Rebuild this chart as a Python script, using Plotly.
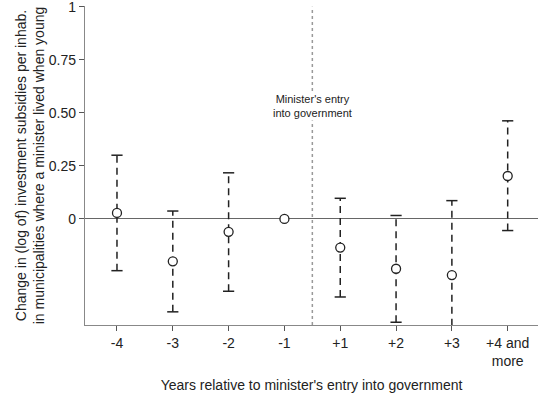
import plotly.graph_objects as go

categories = ["-4", "-3", "-2", "-1", "+1", "+2", "+3", "+4 and<br>more"]
estimates = [0.028, -0.20, -0.061, 0.0, -0.135, -0.235, -0.265, 0.202]
upper_ci = [0.30, 0.037, 0.217, None, 0.097, 0.016, 0.086, 0.462]
lower_ci = [-0.244, -0.438, -0.341, None, -0.368, -0.487, -0.56, -0.055]
ytick_vals = [0, 0.25, 0.5, 0.75, 1]
ytick_text = ["0", "0.25", "0.50", "0.75", "1"]

xs = list(range(len(categories)))
font_family = "Liberation Sans, Arial, sans-serif"
txt = "#222222"

# dashed CI segments
seg_x, seg_y = [], []
cap_x, cap_y = [], []
for x, lo, hi in zip(xs, lower_ci, upper_ci):
    if lo is None or hi is None:
        continue
    seg_x += [x, x, None]
    seg_y += [lo, hi, None]
    cap_x += [x, x]
    cap_y += [lo, hi]

fig = go.Figure()
fig.add_trace(go.Scatter(
    x=seg_x, y=seg_y, mode="lines",
    line=dict(color="#222222", width=1.5, dash="7px,5px"),
    hoverinfo="skip", showlegend=False))
fig.add_trace(go.Scatter(
    x=cap_x, y=cap_y, mode="markers",
    marker=dict(symbol="line-ew", size=8, line=dict(color="#222222", width=1.5)),
    hoverinfo="skip", showlegend=False))
fig.add_trace(go.Scatter(
    x=xs, y=estimates, mode="markers",
    marker=dict(symbol="circle", size=9, color="white",
                line=dict(color="#222222", width=1.3)),
    showlegend=False))

entry_x = (xs[3] + xs[4]) / 2
fig.add_shape(type="line", x0=entry_x, x1=entry_x, y0=-0.5, y1=1,
              xref="x", yref="y", layer="below",
              line=dict(color="#999999", width=1.5, dash="dot"))
fig.add_annotation(x=entry_x, y=0.53, xref="x", yref="y",
                   text="Minister's entry<br>into government",
                   showarrow=False, bgcolor="white",
                   font=dict(family=font_family, size=11, color=txt))

fig.update_layout(
    width=538, height=402,
    margin=dict(l=85, r=0, t=6, b=77),
    plot_bgcolor="white", paper_bgcolor="white",
    font=dict(family=font_family, size=14, color=txt),
    showlegend=False,
)
fig.update_xaxes(
    range=[-0.573, 7.543], tickvals=xs, ticktext=categories,
    automargin=False, ticklabeloverflow="allow",
    showgrid=False, zeroline=False,
    showline=True, linecolor="#888888", linewidth=1.3,
    ticks="outside", ticklen=5, tickcolor="#555555", tickwidth=1.2,
    title=dict(text="Years relative to minister's entry into government",
               font=dict(size=14), standoff=12),
)
fig.update_yaxes(
    range=[-0.5, 1.003], tickvals=ytick_vals, ticktext=ytick_text,
    automargin=False, ticklabeloverflow="allow",
    showgrid=False, zeroline=True, zerolinecolor="#666666", zerolinewidth=1.3,
    showline=True, linecolor="#888888", linewidth=1.3,
    ticks="outside", ticklen=5, tickcolor="#555555", tickwidth=1.2,
    title=dict(text="Change in (log of) investment subsidies per inhab.<br>in municipalities where a minister lived when young",
               font=dict(size=14), standoff=0),
)

fig.write_html("out.html",
               config={"displayModeBar": False},
               post_script="document.body.style.margin='0';document.body.style.overflow='hidden';")
